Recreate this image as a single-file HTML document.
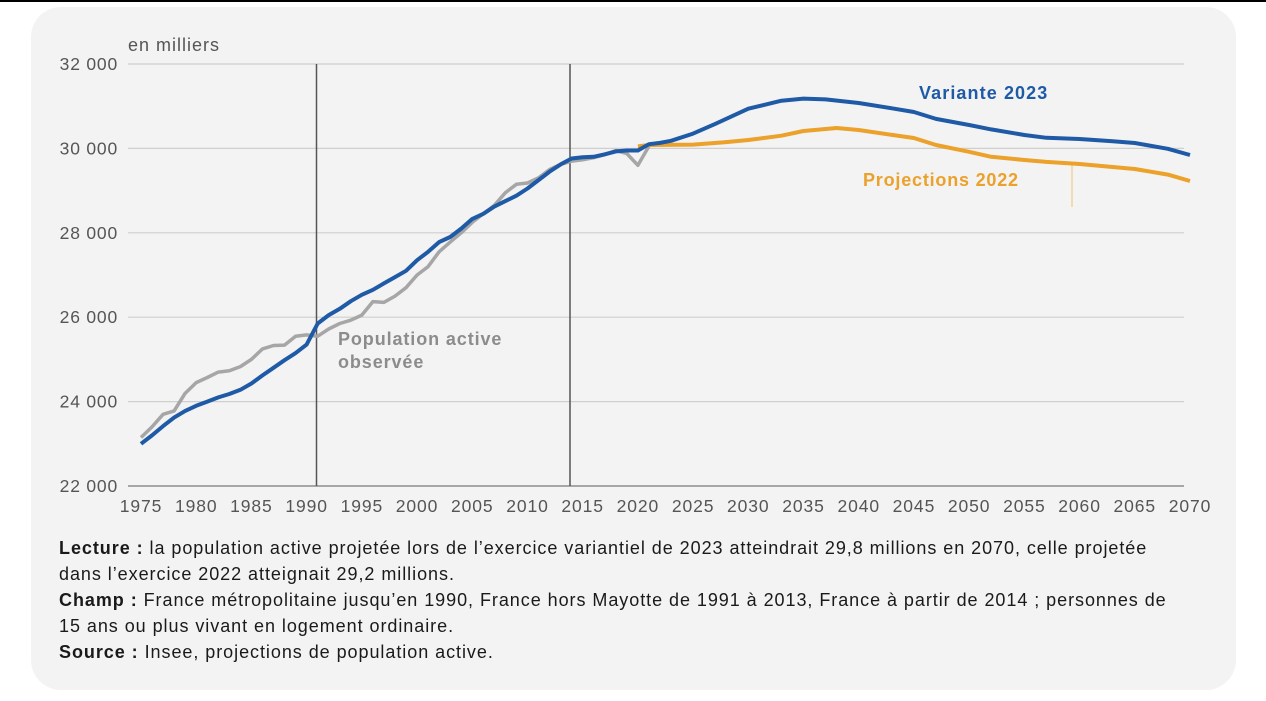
<!DOCTYPE html>
<html><head><meta charset="utf-8"><style>
html,body{margin:0;padding:0;background:#fff;}
body{width:1266px;height:701px;position:relative;overflow:hidden;font-family:"Liberation Sans",sans-serif;}
.top{position:absolute;left:0;top:0;width:1266px;height:2px;background:#000;}
.card{position:absolute;left:31px;top:7px;width:1205px;height:683px;background:#f3f3f3;border-radius:30px;}
.note{position:absolute;left:59px;top:535px;width:1132px;font-size:18px;letter-spacing:0.95px;line-height:26px;color:#1a1a1a;}
svg{position:absolute;left:0;top:0;}
</style></head><body>
<div class="top"></div>
<div class="card"></div>
<svg id="s" width="1266" height="701" font-family="Liberation Sans, sans-serif"></svg>
<div class="note"><b>Lecture :</b> la population active projetée lors de l’exercice variantiel de 2023 atteindrait 29,8 millions en 2070, celle projetée dans l’exercice 2022 atteignait 29,2 millions.<br><b>Champ :</b> France métropolitaine jusqu’en 1990, France hors Mayotte de 1991 à 2013, France à partir de 2014 ; personnes de 15 ans ou plus vivant en logement ordinaire.<br><b>Source :</b> Insee, projections de population active.</div>
<script>
const X=y=>141+(y-1975)*11.042, Y=v=>486-(v-22000)*0.0422;
let h='';
for(let v=22000;v<=32000;v+=2000){const y=Y(v);h+=`<line x1="128" x2="1184" y1="${y}" y2="${y}" stroke="${v==22000?'#777':'#cfcfcf'}" stroke-width="1.2"/>`;
h+=`<text x="118" y="${y+6}" text-anchor="end" font-size="17.5" letter-spacing="0.8" fill="#555">${(v/1000)} 000</text>`;}
for(let yr=1975;yr<=2070;yr+=5){h+=`<text x="${X(yr)}" y="512" text-anchor="middle" font-size="17.5" letter-spacing="0.9" fill="#555">${yr}</text>`;}
h+=`<text x="128" y="51" font-size="18" letter-spacing="1" fill="#555">en milliers</text>`;
h+=`<line x1="316.5" x2="316.5" y1="64" y2="486" stroke="#555" stroke-width="1.5"/><line x1="570" x2="570" y1="64" y2="486" stroke="#555" stroke-width="1.5"/>`;
h+=`<line x1="1072" x2="1072" y1="165" y2="207" stroke="#f0c070" stroke-width="1"/>`;
const P=a=>a.map((p,i)=>(i?'L':'M')+X(p[0]).toFixed(1)+','+Y(p[1]).toFixed(1)).join('');
const gray=[23150,23400,23700,23780,24200,24450,24570,24700,24730,24830,25000,25250,25330,25340,25550,25580,25550,25720,25850,25930,26050,26370,26350,26500,26700,27000,27200,27550,27780,28000,28250,28450,28650,28950,29150,29180,29300,29500,29620,29700,29730,29780,29850,29950,29880,29600,30050].map((v,i)=>[1975+i,v]);
const blueObs=[23000,23200,23420,23620,23780,23900,24000,24100,24180,24280,24430,24620,24800,24980,25150,25350,25850,26050,26200,26380,26530,26650,26800,26950,27100,27350,27550,27780,27900,28100,28330,28450,28620,28750,28880,29050,29250,29450,29620,29760,29790,29800,29860,29930,29950,29950,30100,30130].map((v,i)=>[1975+i,v]);
const blue=blueObs.concat([[2023,30180],[2025,30350],[2027,30580],[2030,30940],[2033,31130],[2035,31180],[2037,31160],[2040,31076],[2043,30950],[2045,30862],[2047,30700],[2050,30554],[2052,30450],[2055,30318],[2057,30250],[2060,30223],[2063,30170],[2065,30128],[2068,29990],[2070,29843]]);
const orange=[[2020,30050],[2021,30080],[2025,30090],[2028,30150],[2030,30200],[2033,30300],[2035,30412],[2038,30483],[2040,30436],[2043,30320],[2045,30246],[2047,30080],[2050,29920],[2052,29800],[2055,29725],[2057,29680],[2060,29630],[2063,29560],[2065,29512],[2068,29380],[2070,29227]];
h+=`<path d="${P(gray)}" fill="none" stroke="#a6a6a6" stroke-width="3.5" stroke-linejoin="round"/>`;
h+=`<path d="${P(orange)}" fill="none" stroke="#eba12a" stroke-width="4" stroke-linejoin="round"/>`;
h+=`<path d="${P(blue)}" fill="none" stroke="#1f5aa6" stroke-width="4" stroke-linejoin="round"/>`;
h+=`<text x="919" y="99" font-size="18" letter-spacing="1.1" font-weight="bold" fill="#1f5aa6">Variante 2023</text>`;
h+=`<text x="863" y="186" font-size="18" letter-spacing="0.8" font-weight="bold" fill="#eba12a">Projections 2022</text>`;
h+=`<text x="338" y="345" font-size="18" letter-spacing="0.9" font-weight="bold" fill="#8c8c8c">Population active</text><text x="338" y="368" font-size="18" letter-spacing="0.9" font-weight="bold" fill="#8c8c8c">observée</text>`;
document.getElementById('s').innerHTML=h;
</script>
</body></html>
